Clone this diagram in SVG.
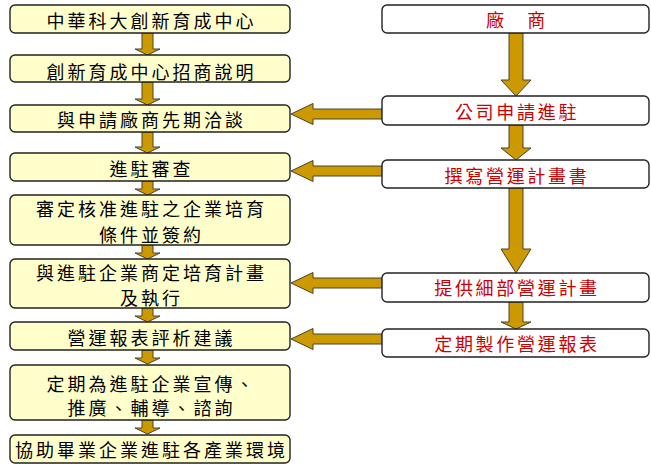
<svg xmlns="http://www.w3.org/2000/svg" width="651" height="464" viewBox="0 0 651 464">
<style>
.lbox{fill:#FFFFCC;stroke:#222;stroke-width:1.4}
.rbox{fill:#FFFFFF;stroke:#222;stroke-width:1.4}
.arr{fill:#CC9900;stroke:#4a4030;stroke-width:1}
.lt{font-family:"Noto Sans CJK TC","Noto Sans CJK SC",sans-serif;font-size:18px;fill:#000;letter-spacing:3px;text-anchor:middle}
.rt{font-family:"Noto Sans CJK TC","Noto Sans CJK SC",sans-serif;font-size:18px;fill:#CC0000;letter-spacing:2.7px;text-anchor:middle}
</style>
<rect width="651" height="464" fill="#FFFFFF"/>
<g id="connectors">
<!-- left vertical arrows -->
<polygon class="arr" points="142,33 153,33 153,49 160,49 147.5,55 135,49 142,49"/>
<polygon class="arr" points="142,82 153,82 153,99 160,99 147.5,105 135,99 142,99"/>
<polygon class="arr" points="142,132 153,132 153,147 160,147 147.5,153 135,147 142,147"/>
<polygon class="arr" points="142,181 153,181 153,189 160,189 147.5,195 135,189 142,189"/>
<polygon class="arr" points="142,245 153,245 153,253 160,253 147.5,259 135,253 142,253"/>
<polygon class="arr" points="142,308 153,308 153,316 160,316 147.5,322 135,316 142,316"/>
<polygon class="arr" points="142,350 153,350 153,358 160,358 147.5,364 135,358 142,358"/>
<polygon class="arr" points="142,420 153,420 153,428 160,428 147.5,434 135,428 142,428"/>
<!-- right vertical arrows -->
<polygon class="arr" points="509,33 523,33 523,80 531,80 516,96 501,80 509,80"/>
<polygon class="arr" points="509,125 523,125 523,148 531,148 516,160 501,148 509,148"/>
<polygon class="arr" points="509,188 523,188 523,249 531,249 516,273 501,249 509,249"/>
<polygon class="arr" points="509,302 523,302 523,322 531,322 516,329 501,322 509,322"/>
<!-- horizontal arrows -->
<polygon class="arr" points="382,109 313,109 313,103.5 291,114 313,124.5 313,119 382,119"/>
<polygon class="arr" points="382,166 313,166 313,160.5 291,171 313,181.5 313,176 382,176"/>
<polygon class="arr" points="382,278 313,278 313,272.5 291,283 313,293.5 313,288 382,288"/>
<polygon class="arr" points="382,334 313,334 313,328.5 291,339 313,349.5 313,344 382,344"/>
</g>
<g id="n1"><rect class="lbox" x="10" y="5" width="280" height="28" rx="5"/><text class="lt" x="151.5" y="27.5">中華科大創新育成中心</text></g>
<g id="n2"><rect class="lbox" x="10" y="55" width="280" height="27" rx="5"/><text class="lt" x="151.5" y="78.5">創新育成中心招商說明</text></g>
<g id="n3"><rect class="lbox" x="10" y="105" width="280" height="27" rx="5"/><text class="lt" x="151.5" y="127">與申請廠商先期洽談</text></g>
<g id="n4"><rect class="lbox" x="10" y="153" width="280" height="28" rx="5"/><text class="lt" x="151.5" y="176">進駐審查</text></g>
<g id="n5"><rect class="lbox" x="10" y="195" width="280" height="50" rx="5"/><text class="lt" x="151.5" y="215.5">審定核准進駐之企業培育</text><text class="lt" x="151.5" y="241.5">條件並簽約</text></g>
<g id="n6"><rect class="lbox" x="10" y="259" width="280" height="49" rx="5"/><text class="lt" x="151.5" y="280">與進駐企業商定培育計畫</text><text class="lt" x="151.5" y="304.5">及執行</text></g>
<g id="n7"><rect class="lbox" x="10" y="322" width="280" height="28" rx="5"/><text class="lt" x="151.5" y="345">營運報表評析建議</text></g>
<g id="n8"><rect class="lbox" x="10" y="365" width="280" height="55" rx="5"/><text class="lt" x="151.5" y="390.5">定期為進駐企業宣傳、</text><text class="lt" x="151.5" y="414.5">推廣、輔導、諮詢</text></g>
<g id="n9"><rect class="lbox" x="10" y="435" width="280" height="28" rx="5"/><text class="lt" x="151.5" y="456.5">協助畢業企業進駐各產業環境</text></g>
<g id="r1"><rect class="rbox" x="382" y="5" width="267" height="28" rx="5"/><text class="rt" x="517" y="27">廠　商</text></g>
<g id="r2"><rect class="rbox" x="382" y="96" width="267" height="29" rx="5"/><text class="rt" x="517" y="119">公司申請進駐</text></g>
<g id="r3"><rect class="rbox" x="382" y="160" width="267" height="28" rx="5"/><text class="rt" x="517" y="183">撰寫營運計畫書</text></g>
<g id="r4"><rect class="rbox" x="382" y="273" width="267" height="29" rx="5"/><text class="rt" x="517" y="295">提供細部營運計畫</text></g>
<g id="r5"><rect class="rbox" x="382" y="329" width="267" height="28" rx="5"/><text class="rt" x="517" y="351">定期製作營運報表</text></g>
</svg>
